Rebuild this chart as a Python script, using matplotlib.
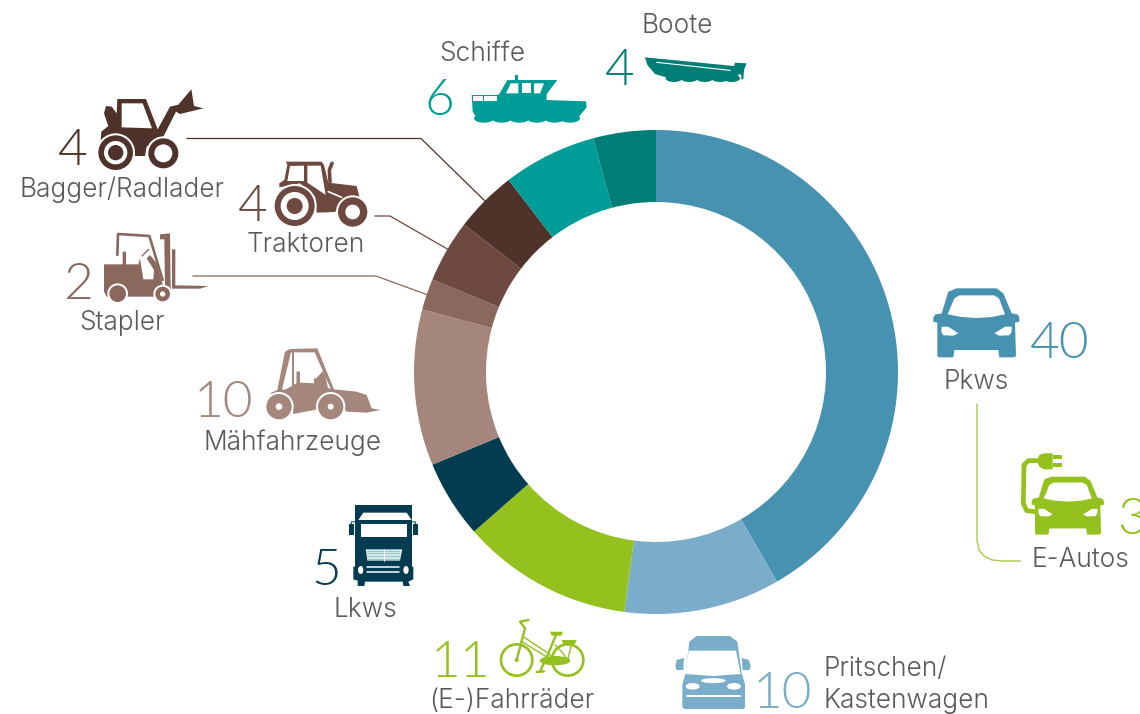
import matplotlib

matplotlib.use('Agg')
import matplotlib.font_manager as fm
import matplotlib.pyplot as plt
from matplotlib.patches import Circle, Ellipse, Polygon, Rectangle

categories = ['Pritschen/\nKastenwagen', 'Pkws', '(E-)Fahrräder', 'Lkws', 'Mähfahrzeuge',
              'Stapler', 'Traktoren', 'Bagger/Radlader', 'Schiffe', 'Boote']
# clockwise from 12 o'clock
slice_names = ['Pkws', 'Pritschen', 'Fahrraeder', 'Lkws', 'Maeh', 'Stapler', 'Traktoren', 'Bagger', 'Schiffe', 'Boote']
slice_values = [40, 10, 11, 5, 10, 2, 4, 4, 6, 4]
slice_colors = ['#4892b1', '#79adc9', '#95c11f', '#033b50', '#a5867c',
                '#8a685d', '#6d493f', '#4f3229', '#009c97', '#007e76']
eauto_value = 3

W, H = 1140, 714
TEXT = '#5a5a5a'


def font_file(name, size):
    for f in fm.findSystemFonts():
        if f.endswith(name):
            return fm.FontProperties(fname=f, size=size)
    return fm.FontProperties(family='Roboto', weight='light', size=size)


font_big = font_file('Lato-Light.ttf', 37)
font_label = font_file('Inter-Light.otf', 18.9)

fig = plt.figure(figsize=(W / 100, H / 100), dpi=100)

# ========== donut ==========
cx, cy, R = 656, 372, 242
ax_pie = fig.add_axes([(cx - R) / W, (H - cy - R) / H, 2 * R / W, 2 * R / H])
ax_pie.pie(slice_values, colors=slice_colors, startangle=90, counterclock=False, radius=1,
           wedgeprops=dict(width=72 / R, linewidth=0))
ax_pie.set_xlim(-1, 1)
ax_pie.set_ylim(-1, 1)

# overlay in pixel coordinates for icons, lines and texts
ax = fig.add_axes([0, 0, 1, 1], frameon=False)
ax.set_xlim(0, W)
ax.set_ylim(H, 0)
ax.set_xticks([])
ax.set_yticks([])
ax.patch.set_alpha(0)


def big(x, y, s, color):
    ax.text(x, y, s, fontproperties=font_big, color=color, ha='left', va='baseline')


def label(x, y, s):
    ax.text(x, y, s, fontproperties=font_label, color=TEXT, ha='left', va='baseline')


class Icon:
    # draws with coordinates taken from a 3x crop: offset plus scale
    def __init__(self, ox, oy, color, s=1 / 3, x0=0, y0=0):
        self.ox, self.oy, self.color, self.s, self.x0, self.y0 = ox, oy, color, s, x0, y0

    def p(self, x, y):
        return self.ox + (x - self.x0) * self.s, self.oy + (y - self.y0) * self.s

    def poly(self, pts, color=None, z=3):
        ax.add_patch(Polygon([self.p(*q) for q in pts], closed=True, fc=color or self.color,
                             ec='none', zorder=z))

    def circ(self, x, y, r, color=None, z=3):
        ax.add_patch(Circle(self.p(x, y), r * self.s, fc=color or self.color, ec='none', zorder=z))

    def ell(self, x, y, w, h, color=None, z=3, angle=0):
        ax.add_patch(Ellipse(self.p(x, y), w * self.s, h * self.s, angle=angle,
                             fc=color or self.color, ec='none', zorder=z))

    def rect(self, x0, y0, x1, y1, color=None, z=3):
        a, b = self.p(x0, y0)
        c, d = self.p(x1, y1)
        ax.add_patch(Rectangle((a, b), c - a, d - b, fc=color or self.color, ec='none', zorder=z))

    def line(self, pts, lw=1.0, color=None, z=3):
        xy = [self.p(*q) for q in pts]
        ax.plot([q[0] for q in xy], [q[1] for q in xy], color=color or self.color, lw=lw,
                zorder=z, solid_capstyle='round', solid_joinstyle='round')

    def wheel(self, x, y, rs, halo=True):
        # rs: dark outer, white ring, dark hub (hub may be 0)
        if halo:
            self.circ(x, y, rs[0] + 6, 'white', z=4)
        self.circ(x, y, rs[0], z=5)
        self.circ(x, y, rs[1], 'white', z=6)
        if rs[2]:
            self.circ(x, y, rs[2], z=7)


def car(ic):
    ic.poly([(85, 65), (110, 55), (230, 55), (250, 70), (275, 130), (292, 133), (298, 142), (298, 155),
             (285, 158), (288, 258), (282, 262), (238, 262), (235, 240), (103, 240), (100, 262),
             (56, 262), (52, 258), (52, 158), (40, 155), (40, 142), (46, 133), (65, 130)])
    ic.poly([(83, 133), (103, 85), (118, 76), (222, 76), (237, 85), (255, 133), (215, 141), (170, 144), (125, 141)], 'white', z=4)
    ic.poly([(65, 170), (85, 170), (115, 190), (100, 197), (70, 196), (64, 185)], 'white', z=4)
    ic.poly([(275, 170), (255, 170), (223, 190), (238, 197), (268, 196), (275, 185)], 'white', z=4)


# ========== Pkw ==========
car(Icon(920, 270, slice_colors[0]))

# ========== E-Auto ==========
GREEN = slice_colors[2]
ecar = Icon(920 + 335 / 3, 270 + 620 / 3, GREEN, s=0.84 / 3, x0=40, y0=55)
car(ecar)
plug = Icon(920, 270, GREEN)
plug.line([(350, 572), (325, 572), (312, 585), (310, 700), (320, 722), (345, 725)], lw=3.4)
plug.poly([(350, 572), (358, 555), (372, 550), (398, 550), (398, 598), (372, 598), (358, 590)])
plug.rect(398, 556, 425, 567)
plug.rect(398, 580, 425, 591)

# ========== Bagger ==========
bag = Icon(0, 0, slice_colors[7])
bag.poly([(352, 297), (438, 297), (473, 388), (510, 320), (535, 314), (574, 268), (582, 318), (610, 325),
          (540, 342), (528, 335), (490, 410), (440, 440), (435, 468), (405, 468), (390, 430), (350, 405), (302, 425),
          (304, 395), (325, 378), (312, 340), (318, 318), (335, 320), (350, 340)])
bag.poly([(365, 310), (428, 310), (456, 385), (365, 382)], 'white', z=4)
bag.wheel(347, 458, (52, 35, 23))
bag.wheel(490, 460, (45, 27, 0))

# ========== Traktor ==========
tr = Icon(0, 0, slice_colors[6])
tr.poly([(858, 485), (965, 485), (972, 495), (985, 548), (1070, 558), (1078, 590), (1035, 598), (1005, 636),
         (950, 638), (945, 590), (900, 550), (838, 562), (838, 550), (853, 540), (862, 495)])
tr.poly([(870, 498), (912, 497), (912, 543), (862, 543)], 'white', z=4)
tr.poly([(922, 497), (962, 497), (977, 585), (948, 565), (922, 548)], 'white', z=4)
tr.line([(996, 490), (988, 510), (990, 545)], lw=2.6)
tr.line([(985, 575), (1025, 592)], lw=1.2, color='white', z=4)
tr.wheel(884, 618, (60, 42, 24))
tr.wheel(1058, 636, (44, 22, 0))

# ========== Stapler ==========
st = Icon(0, 0, slice_colors[5])
st.poly([(312, 793), (368, 793), (368, 755), (378, 755), (378, 793), (415, 793), (420, 775), (430, 838),
         (460, 838), (462, 810), (440, 775), (450, 765), (470, 790), (490, 860), (512, 860), (512, 890),
         (320, 890), (312, 875)])
st.poly([(480, 703), (510, 700), (512, 860), (495, 860), (493, 718), (480, 718)])
st.line([(352, 765), (354, 702), (448, 708), (488, 840)], lw=1.9)
st.line([(426, 768), (446, 748)], lw=1.0)
st.poly([(516, 748), (526, 748), (526, 856), (625, 858), (600, 866), (516, 866)])
st.wheel(353, 881, (25, 0.1, 0))
st.wheel(488, 882, (22, 8, 0))

# ========== Maeh ==========
ma = Icon(190, 340, slice_colors[4])
ma.poly([(285, 35), (300, 27), (382, 25), (432, 148), (500, 155), (530, 165), (545, 205), (572, 210),
         (530, 218), (470, 215), (450, 195), (310, 222), (300, 175), (240, 160), (262, 150), (280, 60)])
ma.poly([(303, 37), (374, 37), (422, 146), (350, 132), (330, 130), (330, 95), (320, 95), (320, 130), (285, 150), (276, 148)], 'white', z=4)
ma.rect(306, 37, 311, 140, z=5)
ma.poly([(320, 95), (330, 95), (330, 128), (372, 130), (372, 115), (378, 115), (400, 92), (405, 100), (415, 150), (285, 150), (320, 130)], z=5)
ma.wheel(267, 200, (38, 10, 0))
ma.wheel(422, 200, (38, 9, 0))

# ========== Lkw ==========
lk = Icon(190, 340, slice_colors[3])
lk.rect(495, 495, 665, 680)
lk.poly([(490, 680), (670, 680), (670, 718), (655, 725), (660, 738), (640, 738), (638, 725), (525, 725),
         (523, 738), (503, 738), (503, 722), (490, 718)])
lk.poly([(505, 540), (520, 518), (650, 518), (665, 540)], 'white', z=4)
lk.rect(512, 552, 650, 592, 'white', z=4)
lk.rect(477, 552, 491, 585)
lk.rect(670, 552, 684, 585)
lk.line([(484, 552), (484, 546), (495, 545)], lw=0.7)
lk.line([(676, 552), (676, 546), (665, 545)], lw=0.7)
lk.poly([(527, 628), (637, 628), (630, 662), (532, 662)], '#d5e8e6', z=4)
for gy in [632, 640, 648, 656]:
    lk.line([(532, gy), (628, gy)], lw=0.6, color='#8fc4c2', z=5)
lk.line([(581, 628), (581, 662)], lw=0.6, color='white', z=5)
lk.line([(532, 682), (628, 682)], lw=1.1, color='white', z=4)
lk.line([(532, 696), (628, 696)], lw=1.1, color='white', z=4)
lk.ell(512, 690, 16, 24, 'white', z=4)
lk.ell(648, 690, 16, 24, 'white', z=4)

# ========== Schiffe ==========
sc = Icon(400, 0, slice_colors[8])
sc.poly([(215, 285), (292, 285), (298, 282), (322, 240), (472, 240), (440, 282), (440, 300), (558, 304),
         (560, 322), (530, 358), (232, 358), (218, 335)])
sc.poly([(318, 280), (332, 250), (355, 250), (355, 280)], 'white', z=4)
sc.rect(365, 250, 392, 280, 'white', z=4)
sc.poly([(402, 250), (432, 250), (420, 280), (402, 280)], 'white', z=4)
sc.rect(218, 288, 248, 302, 'white', z=4)
sc.rect(253, 288, 290, 302, 'white', z=4)
sc.rect(346, 225, 353, 240)
for wx in [252, 305, 358, 411, 464, 510]:
    sc.ell(wx, 355, 60, 26)

# ========== Boote ==========
bo = Icon(400, 0, slice_colors[9])
bo.poly([(735, 172), (1002, 198), (1005, 188), (1040, 190), (1032, 210), (1030, 238), (1024, 238), (1024, 225), (1016, 222),
         (1012, 236), (805, 234), (765, 222), (742, 195)])
bo.line([(770, 187), (990, 211)], lw=0.8, color='white', z=4)
for wx in [822, 868, 914, 960, 995]:
    bo.ell(wx, 235, 50, 22)

# ========== Fahrrad ==========
bi = Icon(420, 610, GREEN)
for wx in [290, 443]:
    bi.circ(wx, 150, 51)
    bi.circ(wx, 150, 43, 'white', z=3.5)
bi.ell(405, 152, 92, 28, z=5)
bi.circ(290, 150, 6, z=5)
bi.line([(290, 150), (315, 55), (300, 35), (325, 30)], lw=1.7, z=5)
bi.line([(310, 80), (385, 130), (405, 150)], lw=1.0, z=5)
bi.line([(306, 95), (395, 150)], lw=1.0, z=5)
bi.line([(408, 75), (385, 130), (360, 185)], lw=1.7, z=5)
bi.line([(405, 105), (425, 125), (443, 150)], lw=1.0, z=5)
bi.line([(443, 150), (455, 100)], lw=1.0, z=5)
bi.poly([(390, 65), (428, 65), (425, 77), (395, 77)], z=5)
bi.poly([(425, 90), (470, 90), (465, 102), (430, 102)], z=5)
bi.line([(350, 186), (372, 184)], lw=1.7, z=5)

# ========== Pritschen ==========
va = Icon(420, 610, slice_colors[1])
va.poly([(808, 95), (830, 78), (930, 78), (952, 95), (965, 190), (975, 222), (975, 292), (970, 297), (792, 297),
         (787, 292), (787, 222), (797, 190)])
va.poly([(806, 122), (948, 122), (962, 192), (880, 198), (796, 192)], 'white', z=4)
va.poly([(770, 150), (792, 144), (790, 180), (770, 180), (766, 170)])
va.poly([(965, 144), (987, 150), (992, 170), (988, 180), (968, 180)])
va.ell(818, 229, 42, 20, 'white', z=4)
va.ell(942, 229, 42, 20, 'white', z=4)
va.ell(880, 212, 74, 15, 'white', z=4)
va.line([(800, 259), (960, 259)], lw=1.4, color='white', z=4)

# ========== leader lines ==========
ax.plot([187, 421, 487], [138.5, 138.5, 203], color=slice_colors[7], lw=0.9, zorder=2)
ax.plot([375, 390, 449], [216, 216, 250], color=slice_colors[6], lw=0.9, zorder=2)
ax.plot([193, 376, 428], [276, 276, 295], color=slice_colors[5], lw=0.9, zorder=2)
ax.plot([977, 977, 979, 984, 992, 1003, 1020], [404, 540, 550, 556, 560, 561, 561], color='#a9cc4a', lw=1.0, zorder=2)

# ========== numbers and labels ==========
for i, x, y in [(7, 58, 165), (6, 238, 221), (5, 64, 299), (4, 194, 417), (3, 311, 585),
                (2, 431, 677), (1, 753, 708), (0, 1030, 358), (8, 425, 115), (9, 605, 85)]:
    big(x, y, str(slice_values[i]), slice_colors[i])
big(1117, 534, str(eauto_value), GREEN)

label(20, 197, categories[7])
label(247, 252, categories[6])
label(79, 330, categories[5])
label(204, 450, categories[4])
label(334, 617, categories[3])
label(429, 708, categories[2])
label(823, 676, categories[0].split('\n')[0])
label(823, 708, categories[0].split('\n')[1])
label(944, 389, categories[1])
label(1031, 567, 'E-Autos')
label(439, 61, categories[8])
label(642, 33, categories[9])

fig.savefig('out.png', dpi=100, facecolor='white')
print('OK')
